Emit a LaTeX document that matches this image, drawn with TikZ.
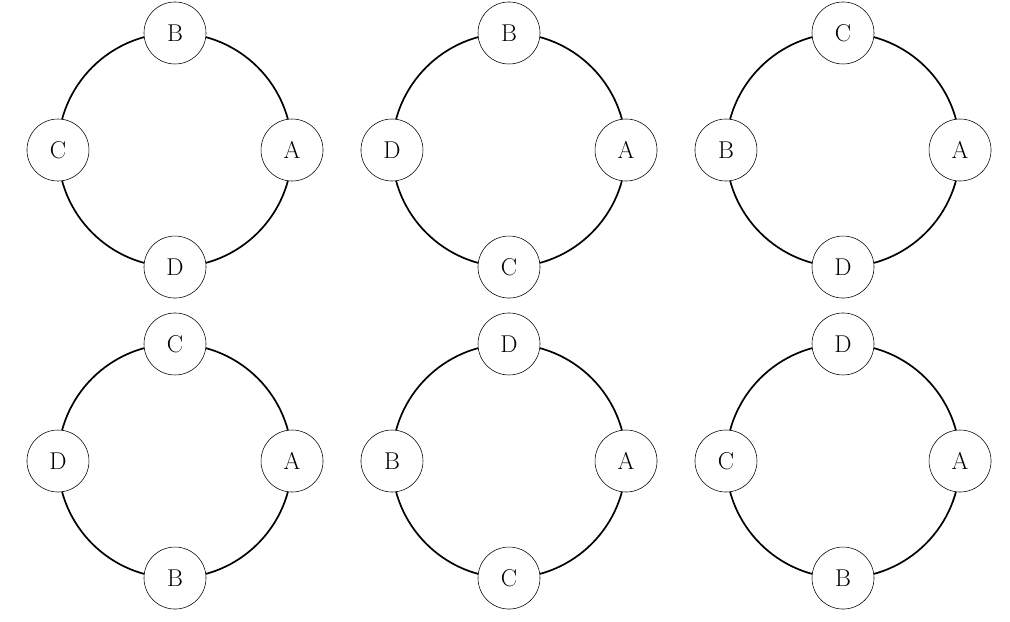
\documentclass[tikz,border=0pt]{standalone}
\usepackage{tikz}
\begin{document}
\begin{tikzpicture}[x=0.025cm,y=-0.025cm,
    seat/.style={circle,draw,fill=white,minimum size=1.55cm,inner sep=0pt,font=\LARGE},
    ring/.style={line width=1.2pt}]
    \useasboundingbox (0,0) rectangle (1010,621);
    \foreach \cx/\cy/\ra/\rb/\rc/\rd [count=\i] in
        {175/150/A/B/C/D, 509/150/A/B/D/C, 843/150/A/C/B/D,
         175/461/A/C/D/B, 509/461/A/D/B/C, 843/461/A/D/C/B}{
        \coordinate (c\i) at (\cx,\cy);
        \draw[ring] (c\i) circle (2.925cm);
        \node[seat] (r\i) at ([xshift=2.925cm]c\i) {\ra};
        \node[seat] (t\i) at ([yshift=2.925cm]c\i) {\rb};
        \node[seat] (l\i) at ([xshift=-2.925cm]c\i) {\rc};
        \node[seat] (b\i) at ([yshift=-2.925cm]c\i) {\rd};
    }
\end{tikzpicture}
\end{document}
